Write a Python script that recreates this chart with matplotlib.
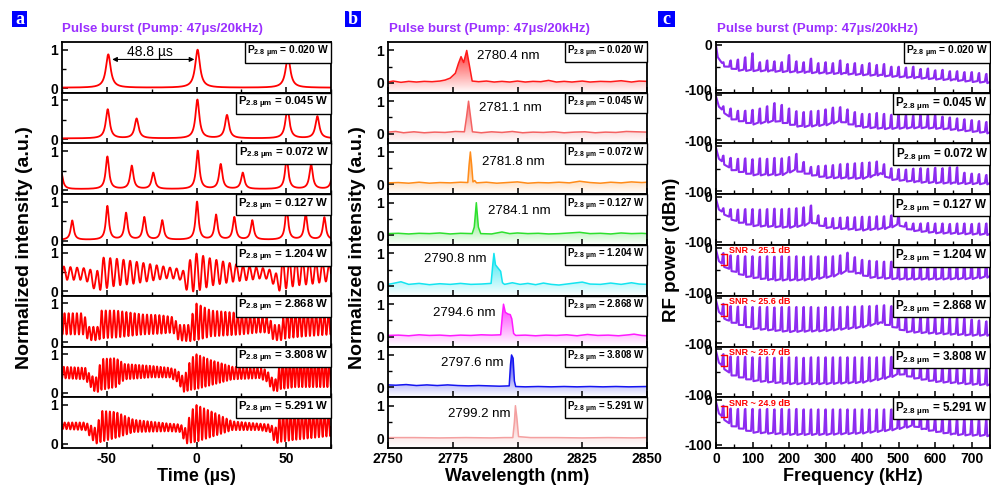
import numpy as np
import matplotlib
matplotlib.use('Agg')
import matplotlib.pyplot as plt
from matplotlib.ticker import MultipleLocator
from matplotlib.offsetbox import AnchoredText
from matplotlib.patches import Rectangle, Polygon
from matplotlib.colors import to_rgb

plt.rcParams.update({
    'font.family': ['Liberation Sans', 'DejaVu Sans'],
    'font.weight': 'bold',
    'axes.labelweight': 'bold',
    'axes.unicode_minus': False,
    'mathtext.fontset': 'custom',
    'mathtext.rm': 'Liberation Sans:bold',
    'mathtext.it': 'Liberation Sans:bold',
    'mathtext.bf': 'Liberation Sans:bold',
    'axes.linewidth': 1.3,
    'xtick.direction': 'in', 'ytick.direction': 'in',
    'xtick.major.size': 4, 'ytick.major.size': 4,
    'xtick.minor.size': 3, 'ytick.minor.size': 3,
    'xtick.major.width': 1.1, 'ytick.major.width': 1.1,
    'xtick.minor.width': 1.0, 'ytick.minor.width': 1.0,
    'xtick.labelsize': 10, 'ytick.labelsize': 10,
})

powers = ['0.020', '0.045', '0.072', '0.127', '1.204', '2.868', '3.808', '5.291']
title = 'Pulse burst (Pump: 47\u00b5s/20kHz)'
purple = '#8d2bf0'

# ---- panel a: pulse trains (low power) ----
pulse_t = [
    [-49.2, 0.6, 51.0],
    [-49.5, -33.4, 0.5, 17.0, 50.7, 67.4],
    [-75.5, -49.7, -36.1, -24.1, 0.7, 13.5, 25.8, 50.3, 63.9, 76.0],
    [-69.3, -49.7, -39.3, -29.1, -19.1, 0.3, 10.9, 21.1, 31.1, 50.3, 60.9, 71.3],
]
pulse_h = [
    [0.86, 0.98, 0.80],
    [0.75, 0.51, 1.00, 0.60, 0.80, 0.57],
    [0.46, 0.84, 0.60, 0.42, 0.99, 0.64, 0.42, 0.80, 0.64, 0.40],
    [0.50, 0.87, 0.69, 0.58, 0.50, 0.98, 0.64, 0.58, 0.50, 0.82, 0.67, 0.58],
]
pulse_w = [1.6, 1.3, 1.1, 1.0]

# ---- panel a: burst envelopes (high power) ----
burst_t = [
    [-75, -62, -58, -56, -53, -45, -35, -25, -15, -9, -6, -3, 0, 8, 20, 30, 38, 42, 45, 48, 55, 65, 75],
    [-75, -63, -60, -55, -53, -45, -30, -20, -13, -10, -4, -1, 0, 8, 25, 35, 40, 43, 47, 50, 60, 75],
    [-75, -62, -59, -56, -53, -45, -40, -25, -15, -11, -7, -3, 0, 8, 20, 35, 39, 42, 44, 47, 55, 75],
    [-75, -62, -58, -56, -53, -45, -35, -15, -9, -6, -3, 0, 10, 20, 35, 41, 44, 47, 55, 75],
]
burst_lo = [
    [0.30, 0.30, 0.12, 0.00, 0.05, 0.15, 0.20, 0.28, 0.35, 0.30, 0.05, 0.00, 0.00, 0.15, 0.25, 0.30, 0.35, 0.25, 0.00, 0.05, 0.15, 0.20, 0.28],
    [0.20, 0.20, 0.05, 0.05, 0.10, 0.12, 0.20, 0.22, 0.25, 0.05, 0.02, 0.05, 0.05, 0.15, 0.20, 0.25, 0.25, 0.05, 0.05, 0.10, 0.15, 0.20],
    [0.38, 0.35, 0.15, 0.00, 0.08, 0.15, 0.35, 0.40, 0.40, 0.30, 0.03, 0.08, 0.10, 0.20, 0.35, 0.38, 0.30, 0.10, 0.02, 0.10, 0.15, 0.15],
    [0.38, 0.35, 0.10, 0.00, 0.05, 0.15, 0.30, 0.32, 0.30, 0.00, 0.03, 0.05, 0.20, 0.35, 0.35, 0.30, 0.00, 0.05, 0.10, 0.20],
]
burst_hi = [
    [0.65, 0.60, 0.55, 0.45, 0.88, 0.85, 0.78, 0.70, 0.62, 0.58, 0.50, 0.90, 0.98, 0.85, 0.72, 0.65, 0.60, 0.55, 0.45, 0.85, 0.85, 0.78, 0.72],
    [0.75, 0.75, 0.40, 0.40, 0.82, 0.82, 0.72, 0.70, 0.65, 0.45, 0.45, 0.95, 1.00, 0.82, 0.75, 0.68, 0.65, 0.45, 0.45, 0.85, 0.80, 0.75],
    [0.68, 0.65, 0.45, 0.40, 0.88, 0.90, 0.75, 0.70, 0.65, 0.60, 0.40, 0.90, 1.00, 0.85, 0.68, 0.65, 0.60, 0.40, 0.35, 0.85, 0.85, 0.85],
    [0.55, 0.55, 0.45, 0.40, 0.85, 0.82, 0.62, 0.52, 0.50, 0.40, 0.85, 1.00, 0.80, 0.58, 0.52, 0.50, 0.40, 0.85, 0.85, 0.80],
]
burst_period = [3.7, 2.3, 2.0, 2.1]

# ---- panel b: spectra ----
spec_colors = ['#ff1a1a', '#f46262', '#ff8c1a', '#2ee02e', '#14e4f0', '#ff1aff', '#1414f0', '#f4a0a0']
spec_peak = ['2780.4 nm', '2781.1 nm', '2781.8 nm', '2784.1 nm', '2790.8 nm', '2794.6 nm', '2797.6 nm', '2799.2 nm']
spec_x = [
    [2750, 2752, 2755, 2758, 2761, 2764, 2767, 2770, 2772, 2774, 2776, 2777.2, 2778.2, 2779.2, 2780.4, 2781.3, 2782.5, 2785, 2788, 2791, 2794, 2797, 2800, 2803, 2806, 2809, 2812, 2815, 2818, 2821, 2825, 2828, 2832, 2836, 2840, 2844, 2847, 2850],
    [2750, 2753, 2756, 2760, 2764, 2768, 2772, 2776, 2779.5, 2780.3, 2781.1, 2781.9, 2782.6, 2786, 2790, 2794, 2798, 2802, 2806, 2810, 2814, 2818, 2822, 2826, 2830, 2834, 2838, 2842, 2846, 2850],
    [2750, 2754, 2758, 2762, 2766, 2770, 2774, 2778, 2780.8, 2781.3, 2781.8, 2782.3, 2782.8, 2783.5, 2784.2, 2788, 2792, 2796, 2800, 2804, 2808, 2812, 2816, 2820, 2824, 2828, 2832, 2836, 2840, 2844, 2848, 2850],
    [2750, 2754, 2758, 2762, 2766, 2770, 2774, 2778, 2782.5, 2783.3, 2784.1, 2784.9, 2785.8, 2790, 2794, 2797, 2800, 2804, 2808, 2812, 2816, 2820, 2824, 2828, 2832, 2836, 2840, 2844, 2848, 2850],
    [2750, 2752, 2755, 2758, 2762, 2766, 2770, 2774, 2778, 2782, 2786, 2789.8, 2790.5, 2790.9, 2791.5, 2792.5, 2793.5, 2794.2, 2795, 2798, 2801, 2804, 2807, 2810, 2813, 2816, 2820, 2825, 2828, 2832, 2836, 2840, 2844, 2847, 2850],
    [2750, 2754, 2758, 2762, 2766, 2770, 2774, 2778, 2782, 2786, 2790, 2793.5, 2794.2, 2794.6, 2795.3, 2796.3, 2797.2, 2797.8, 2798.5, 2799.3, 2803, 2807, 2811, 2815, 2819, 2823, 2827, 2831, 2835, 2839, 2843, 2845, 2848, 2850],
    [2750, 2753, 2757, 2761, 2765, 2769, 2773, 2777, 2781, 2785, 2789, 2793, 2796.8, 2797.3, 2797.7, 2798.3, 2798.8, 2799.3, 2803, 2808, 2813, 2818, 2823, 2828, 2833, 2838, 2843, 2850],
    [2750, 2760, 2770, 2780, 2790, 2795, 2798.2, 2798.8, 2799.2, 2799.8, 2800.4, 2805, 2815, 2825, 2835, 2845, 2850],
]
spec_y = [
    [0.03, 0.06, 0.02, 0.05, 0.03, 0.05, 0.04, 0.06, 0.09, 0.15, 0.30, 0.60, 0.81, 0.63, 1.00, 0.60, 0.06, 0.04, 0.06, 0.03, 0.05, 0.03, 0.06, 0.03, 0.05, 0.04, 0.08, 0.03, 0.05, 0.03, 0.06, 0.03, 0.05, 0.04, 0.07, 0.03, 0.06, 0.05],
    [0.05, 0.07, 0.03, 0.06, 0.03, 0.05, 0.04, 0.07, 0.06, 0.50, 1.00, 0.50, 0.06, 0.03, 0.06, 0.04, 0.07, 0.03, 0.05, 0.04, 0.06, 0.03, 0.05, 0.06, 0.03, 0.05, 0.04, 0.07, 0.06, 0.05],
    [0.05, 0.06, 0.04, 0.07, 0.04, 0.06, 0.05, 0.07, 0.06, 0.60, 1.00, 0.60, 0.08, 0.12, 0.05, 0.07, 0.04, 0.06, 0.08, 0.04, 0.06, 0.05, 0.07, 0.05, 0.10, 0.06, 0.04, 0.07, 0.05, 0.08, 0.06, 0.07],
    [0.05, 0.06, 0.04, 0.06, 0.05, 0.07, 0.04, 0.06, 0.05, 0.25, 1.00, 0.25, 0.05, 0.04, 0.10, 0.05, 0.07, 0.05, 0.06, 0.04, 0.05, 0.07, 0.09, 0.05, 0.06, 0.04, 0.07, 0.05, 0.06, 0.05],
    [0.05, 0.08, 0.13, 0.05, 0.08, 0.04, 0.07, 0.05, 0.08, 0.05, 0.06, 0.08, 0.70, 1.00, 0.65, 0.55, 0.45, 0.10, 0.05, 0.10, 0.05, 0.08, 0.04, 0.09, 0.05, 0.03, 0.07, 0.12, 0.06, 0.05, 0.09, 0.05, 0.10, 0.06, 0.05],
    [0.04, 0.05, 0.03, 0.06, 0.04, 0.05, 0.03, 0.05, 0.04, 0.06, 0.05, 0.06, 0.70, 1.00, 0.75, 0.70, 0.68, 0.55, 0.10, 0.04, 0.05, 0.03, 0.05, 0.04, 0.06, 0.03, 0.07, 0.04, 0.05, 0.03, 0.06, 0.08, 0.04, 0.03],
    [0.08, 0.07, 0.09, 0.06, 0.08, 0.06, 0.08, 0.06, 0.05, 0.06, 0.05, 0.04, 0.05, 0.70, 1.00, 0.90, 0.20, 0.03, 0.02, 0.03, 0.02, 0.03, 0.02, 0.03, 0.02, 0.03, 0.02, 0.03],
    [0.02, 0.02, 0.01, 0.02, 0.01, 0.02, 0.02, 0.50, 1.00, 0.60, 0.05, 0.02, 0.02, 0.01, 0.02, 0.01, 0.02],
]
spec_label_x = [2784.3, 2785.2, 2786.2, 2788.5, 2788.2, 2791.6, 2794.6, 2797.2]
spec_label_y = [0.84, 0.78, 0.70, 0.74, 0.84, 0.73, 0.74, 0.76]

# ---- panel c: RF spectra ----
rf_harm = [20, 40, 60, 80, 100, 120, 140, 160, 180, 200, 220, 240, 260, 280, 300, 320, 340, 360, 380,
           400, 420, 440, 460, 480, 500, 520, 540, 560, 580, 600, 620, 640, 660, 680, 700, 720, 740]
rf_top = [
    [-40, -36, -34, -29, -20, -40, -36, -38, -40, -24, -38, -40, -32, -42, -40, -42, -36, -44, -42, -46, -42, -46, -44, -50, -50, -52, -50, -55, -54, -58, -57, -60, -60, -62, -62, -64, -66],
    [-25, -30, -35, -35, -33, -30, -25, -18, -22, -30, -36, -38, -36, -35, -32, -28, -27, -32, -38, -42, -42, -40, -42, -44, -44, -45, -46, -45, -44, -45, -48, -50, -52, -54, -56, -58, -60],
    [-22, -27, -29, -28, -30, -28, -29, -27, -28, -25, -18, -36, -47, -45, -44, -43, -41, -40, -39, -38, -37, -35, -41, -50, -52, -53, -51, -50, -51, -49, -50, -48, -48, -60, -62, -63, -65],
    [-26, -28, -29, -28, -28, -29, -28, -27, -28, -27, -26, -24, -20, -42, -48, -48, -47, -46, -46, -45, -45, -44, -44, -42, -40, -58, -60, -60, -59, -60, -60, -61, -60, -60, -61, -60, -60],
    [-13, -18, -19, -20, -20, -21, -20, -21, -20, -21, -20, -21, -20, -20, -21, -20, -18, -12, -22, -28, -30, -31, -32, -32, -33, -32, -32, -33, -32, -32, -31, -32, -31, -30, -30, -29, -28],
    [-13, -18, -19, -19, -20, -20, -20, -21, -20, -20, -20, -20, -20, -21, -20, -20, -20, -19, -19, -18, -18, -17, -16, -18, -34, -38, -40, -40, -41, -42, -43, -44, -45, -46, -48, -50, -52],
    [-12, -17, -18, -18, -19, -19, -19, -20, -19, -19, -19, -20, -19, -19, -19, -19, -19, -19, -19, -19, -19, -19, -19, -18, -18, -17, -35, -36, -37, -37, -38, -38, -38, -39, -39, -40, -40],
    [-14, -20, -21, -21, -21, -22, -21, -22, -21, -22, -21, -22, -22, -22, -22, -22, -22, -22, -22, -22, -22, -22, -22, -22, -22, -22, -24, -24, -38, -40, -40, -41, -42, -42, -43, -44, -45],
]
rf_base_f = [
    [0, 5, 20, 60, 150, 250, 350, 450, 550, 650, 750],
    [0, 8, 40, 100, 165, 230, 300, 340, 390, 460, 560, 620, 700, 750],
    [0, 8, 40, 100, 180, 215, 260, 300, 400, 430, 450, 480, 550, 650, 750],
    [0, 8, 50, 100, 200, 240, 262, 300, 400, 470, 500, 530, 600, 750],
    [0, 8, 30, 80, 150, 250, 320, 360, 390, 420, 500, 600, 700, 750],
    [0, 8, 30, 100, 200, 300, 400, 450, 480, 520, 600, 700, 750],
    [0, 8, 40, 100, 200, 300, 400, 470, 505, 540, 600, 700, 750],
    [0, 8, 40, 100, 200, 300, 400, 480, 540, 570, 650, 750],
]
rf_base_db = [
    [-2, -28, -45, -55, -57, -60, -63, -67, -72, -77, -83],
    [-2, -25, -50, -62, -55, -68, -64, -56, -68, -72, -70, -72, -78, -82],
    [-4, -28, -50, -62, -62, -52, -62, -68, -70, -65, -60, -72, -78, -81, -82],
    [-4, -28, -52, -62, -66, -62, -55, -66, -72, -68, -60, -72, -78, -82],
    [-4, -30, -45, -62, -70, -70, -62, -50, -56, -64, -68, -68, -67, -63],
    [-4, -30, -48, -65, -72, -70, -62, -53, -60, -72, -76, -80, -80],
    [-4, -30, -55, -68, -75, -75, -72, -62, -53, -62, -70, -76, -78],
    [-4, -30, -55, -70, -75, -75, -72, -65, -56, -64, -75, -78],
]
snr_text = [None, None, None, None, 'SNR ~ 25.1 dB', 'SNR ~ 25.6 dB', 'SNR ~ 25.7 dB', 'SNR ~ 24.9 dB']

W, H = 991, 490
top_px, bot_px = 42, 448
row_h = (bot_px - top_px) / 8


def column(left_px, right_px):
    axs = []
    for i in range(8):
        y0 = 1 - (top_px + (i + 1) * row_h) / H
        axs.append(fig.add_axes([left_px / W, y0, (right_px - left_px) / W, row_h / H]))
    return axs


def power_box(ax, p, size):
    at = AnchoredText('P$_{2.8\\ \u00b5m}$ = ' + p + ' W', loc='upper right',
                      prop=dict(size=size, weight='bold'), pad=0.2, borderpad=0, frameon=True)
    at.patch.set_edgecolor('black')
    at.patch.set_linewidth(1.0)
    at.zorder = 6
    ax.add_artist(at)


fig = plt.figure(figsize=(W / 100, H / 100), dpi=100)
axa = column(62, 331)
axb = column(388, 647)
axc = column(716, 990)

# panel a
t = np.linspace(-75, 75, 6001)
for i, ax in enumerate(axa):
    if i < 4:
        y = np.full_like(t, 0.02)
        for t0, h in zip(pulse_t[i], pulse_h[i]):
            y += h / (1 + ((t - t0) / pulse_w[i]) ** 2)
    else:
        k = i - 4
        lo = np.interp(t, burst_t[k], burst_lo[k])
        hi = np.interp(t, burst_t[k], burst_hi[k])
        y = lo + (hi - lo) * (0.5 + 0.5 * np.cos(2 * np.pi * t / burst_period[k]))
    ax.plot(t, y, color='#ff0000', lw=1.3)
    ax.set_xlim(-75, 75)
    ax.set_ylim(-0.11, 1.2)
    ax.set_yticks([0, 1])
    ax.set_xticks([-50, 0, 50])
    ax.xaxis.set_minor_locator(MultipleLocator(25))
    ax.yaxis.set_minor_locator(MultipleLocator(0.5))
    power_box(ax, powers[i], 7.4 if i == 0 else 8.2)
axa[0].annotate('', xy=(-47, 0.75), xytext=(-1.2, 0.75),
                arrowprops=dict(arrowstyle='<|-|>', color='black', lw=0.8, mutation_scale=7, shrinkA=0, shrinkB=0))
axa[0].text(-26, 0.95, '48.8 \u00b5s', fontsize=10, fontweight='normal', ha='center', va='center')

# panel b
ylo_b = -0.3
for i, ax in enumerate(axb):
    x = np.array(spec_x[i], dtype=float)
    y = np.array(spec_y[i], dtype=float)
    rgb = to_rgb(spec_colors[i])
    grad = np.zeros((200, 1, 4))
    grad[:, :, :3] = rgb
    grad[:, :, 3] = np.linspace(0.0, 0.9, 200)[:, None]
    im = ax.imshow(grad, aspect='auto', extent=[x[0], x[-1], ylo_b, 1.0], origin='lower', zorder=1)
    poly = Polygon(np.vstack([[x[0], ylo_b], np.column_stack([x, y]), [x[-1], ylo_b]]),
                   facecolor='none', edgecolor='none')
    ax.add_patch(poly)
    im.set_clip_path(poly)
    ax.plot(x, y, color=spec_colors[i], lw=1.1, zorder=2)
    ax.set_xlim(2750, 2850)
    ax.set_ylim(ylo_b, 1.26)
    ax.set_yticks([0, 1])
    ax.set_xticks([2750, 2775, 2800, 2825, 2850])
    ax.yaxis.set_minor_locator(MultipleLocator(0.5))
    power_box(ax, powers[i], 7.0)
    ax.text(spec_label_x[i], spec_label_y[i], spec_peak[i], fontsize=9.5, fontweight='normal',
            ha='left' if i < 4 else 'right', va='center')

# panel c
for i, ax in enumerate(axc):
    base_f = np.array(rf_base_f[i], dtype=float)
    base_db = np.array(rf_base_db[i], dtype=float)
    keep = np.array([min(abs(f - h) for h in rf_harm) > 5 for f in base_f])
    xs = list(base_f[keep])
    ys = list(base_db[keep])
    for h, top in zip(rf_harm, rf_top[i]):
        xs += [h - 4.0, h - 1.0, h + 0.5, h + 2.5]
        ys += [np.interp(h - 4.0, base_f, base_db), top, top + 1, np.interp(h + 2.5, base_f, base_db) - 3]
    order = np.argsort(xs)
    ax.plot(np.array(xs)[order], np.array(ys)[order], color=purple, lw=1.5)
    ax.set_xlim(0, 750)
    ax.set_ylim(-107, 6)
    ax.set_yticks([-100, 0])
    ax.set_xticks(range(0, 701, 100))
    ax.xaxis.set_minor_locator(MultipleLocator(50))
    ax.yaxis.set_minor_locator(MultipleLocator(50))
    power_box(ax, powers[i], 7.4 if i == 0 else 8.4)
    if snr_text[i]:
        top = rf_top[i][0]
        foot = top - float(snr_text[i].split()[2])
        ax.plot([15, 30, 30, 15], [top, top, foot, foot], color='red', lw=1.0)
        ax.text(35, -7, snr_text[i], color='red', fontsize=6.5, fontweight='bold', ha='left', va='center')

for axs in (axa, axb, axc):
    for i, ax in enumerate(axs):
        ax.tick_params(which='both', top=False, right=False, pad=3)
        if i < 7:
            ax.tick_params(labelbottom=False)

axa[-1].set_xlabel('Time (\u00b5s)', fontsize=13, labelpad=1)
axb[-1].set_xlabel('Wavelength (nm)', fontsize=13, labelpad=1)
axc[-1].set_xlabel('Frequency (kHz)', fontsize=13, labelpad=1)
fig.text(25 / W, 1 - 248 / H, 'Normalized intensity (a.u.)', rotation=90, fontsize=14,
         fontweight='bold', ha='center', va='center')
fig.text(358 / W, 1 - 248 / H, 'Normalized intensity (a.u.)', rotation=90, fontsize=14,
         fontweight='bold', ha='center', va='center')
fig.text(671 / W, 1 - 250 / H, 'RF power (dBm)', rotation=90, fontsize=13.5,
         fontweight='bold', ha='center', va='center')

for left in (62, 389, 717):
    fig.text(left / W, 1 - 29 / H, title, color='#9b30ff', fontsize=9.5, fontweight='bold',
             ha='left', va='center')

for letter, x0, x1 in (('a', 12, 27), ('b', 345, 361), ('c', 658, 675)):
    fig.patches.append(Rectangle((x0 / W, 1 - 27 / H), (x1 - x0) / W, 16 / H,
                                 transform=fig.transFigure, facecolor='#0000ff', edgecolor='none'))
    fig.text((x0 + x1) / 2 / W, 1 - 19.5 / H, letter, color='white', fontsize=13, fontweight='bold',
             family='Liberation Serif', ha='center', va='center')

fig.savefig('out.png', dpi=100)
